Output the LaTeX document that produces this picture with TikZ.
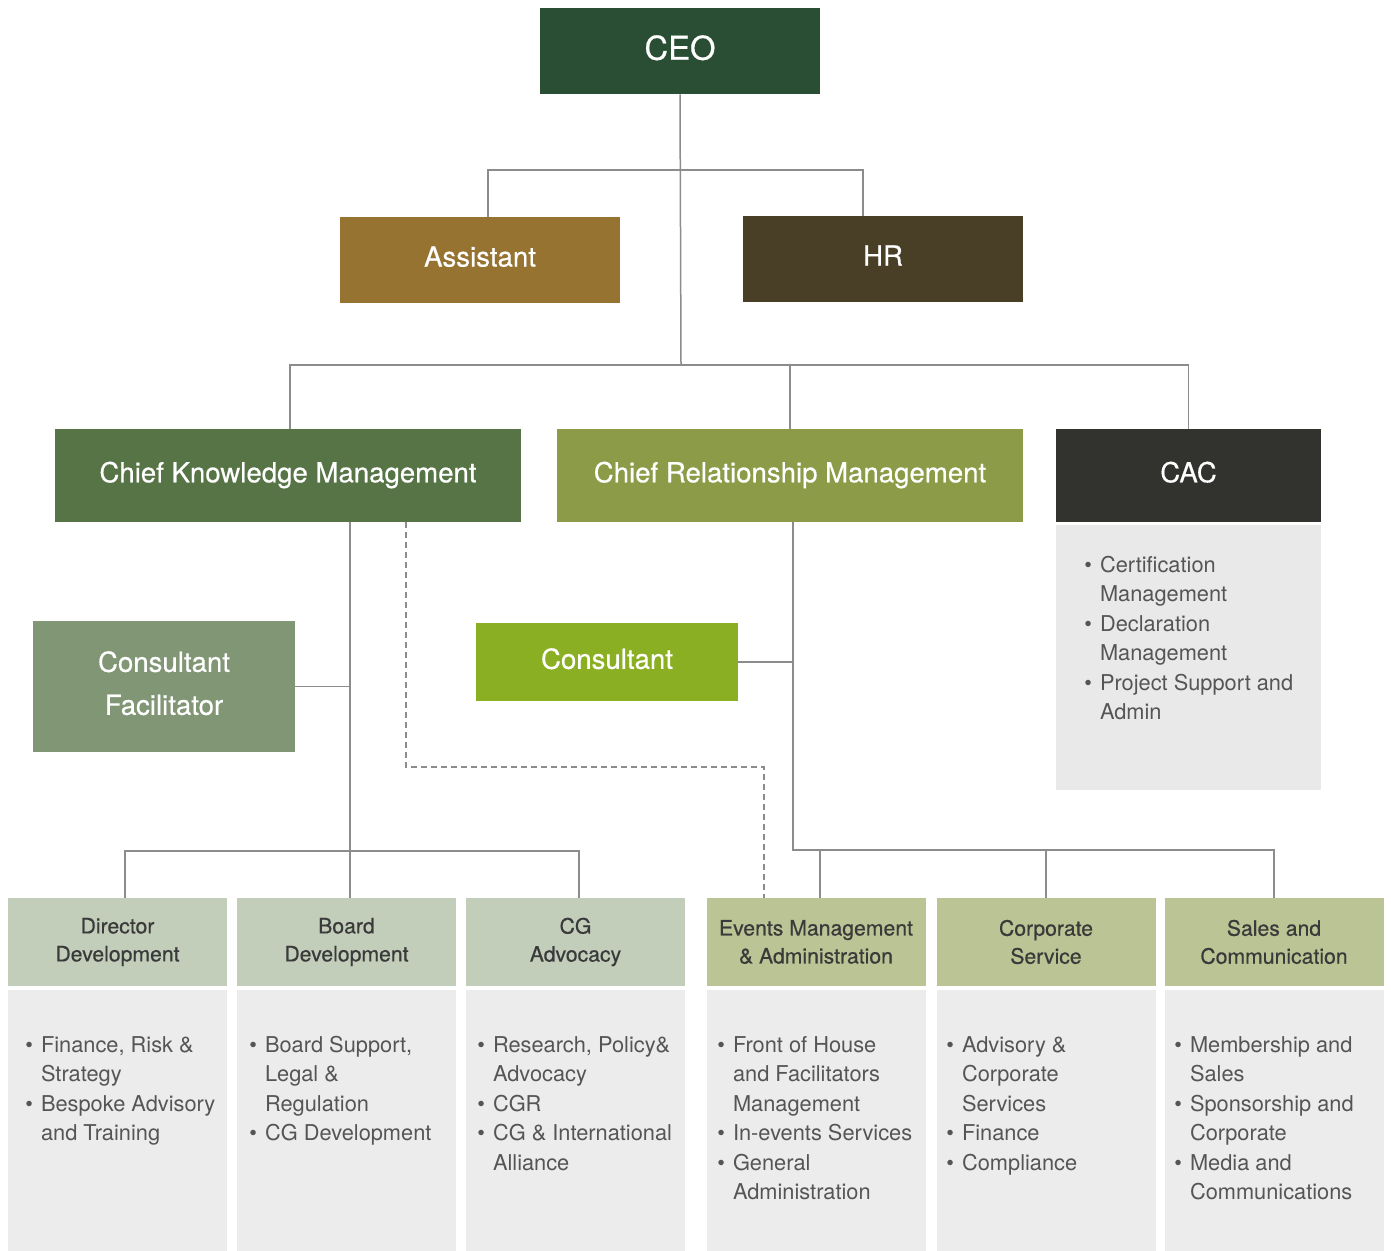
\documentclass[tikz,border=0pt]{standalone}
\usepackage{fontspec}
\setmainfont{TeX Gyre Heros}
\newfontfamily\medfont[FakeBold=0.5]{TeX Gyre Heros}
\usepackage{tikz}
\usetikzlibrary{calc}

\definecolor{ceogreen}{HTML}{2A4E34}
\definecolor{asstbrown}{HTML}{967330}
\definecolor{hrbrown}{HTML}{483F26}
\definecolor{ckmgreen}{HTML}{567445}
\definecolor{crmolive}{HTML}{8B9B48}
\definecolor{cacdark}{HTML}{32332F}
\definecolor{cacgray}{HTML}{E9E9E9}
\definecolor{facgreen}{HTML}{819674}
\definecolor{conslime}{HTML}{8BAF22}
\definecolor{sagehead}{HTML}{C2CDBA}
\definecolor{olivehead}{HTML}{BBC494}
\definecolor{bodygray}{HTML}{EBECEB}
\definecolor{linegray}{HTML}{8C8C8C}
\definecolor{itemgray}{HTML}{555555}
\definecolor{headtext}{HTML}{3A3A3A}

\newcommand{\itm}{\textbullet &}

\begin{document}
\begin{tikzpicture}[x=0.5pt,y=-0.5pt,
  box/.style={inner sep=0pt, align=center, text=white, text depth=3.5pt, font=\medfont\fontsize{13.8}{21.5}\selectfont},
  subhead/.style={inner sep=0pt, align=center, text=headtext, minimum width=109.5pt, minimum height=44pt, font=\medfont\fontsize{10.6}{14}\selectfont},
  subbody/.style={inner sep=0pt, fill=bodygray, minimum width=109.5pt, minimum height=130.5pt},
  itemlist/.style={anchor=base west, inner sep=0pt, text=itemgray, font=\fontsize{10.9}{14.75}\selectfont},
  conn/.style={draw=linegray, line width=0.75pt}]
\useasboundingbox (0,0) rectangle (1391,1251);

% top
\node[box, fill=ceogreen, minimum width=140pt, minimum height=43pt, font=\medfont\fontsize{16.4}{20}\selectfont] (ceo) at (680,51) {CEO};
\node[box, fill=asstbrown, minimum width=140pt, minimum height=43pt] (asst) at (480,260) {Assistant};
\node[box, fill=hrbrown, minimum width=140pt, minimum height=43pt] (hr) at (883,259) {HR};

% chiefs
\node[box, fill=ckmgreen, minimum width=233pt, minimum height=46.5pt] (ckm) at (288,475.5) {Chief Knowledge Management};
\node[box, fill=crmolive, minimum width=233pt, minimum height=46.5pt] (crm) at (790,475.5) {Chief Relationship Management};
\node[box, fill=cacdark, minimum width=132.5pt, minimum height=46.5pt] (cac) at (1188.5,475.5) {CAC};
\node[inner sep=0pt, fill=cacgray, minimum width=132.5pt, minimum height=132.5pt] (cacbody) at (1188.5,657.5) {};
\node[itemlist] (caclist) at (1084,572) {\begin{tabular}[t]{@{}l@{\hspace{4pt}}l@{}}
\itm Certification\\ & Management\\
\itm Declaration\\ & Management\\
\itm Project Support and\\ & Admin
\end{tabular}};

% consultants
\node[box, fill=facgreen, minimum width=131pt, minimum height=65.5pt] (fac) at (164,686.5) {Consultant\\Facilitator};
\node[box, fill=conslime, minimum width=131pt, minimum height=39pt] (cons) at (607,662) {Consultant};

% units
\node[subhead, fill=sagehead] (dd) at (117.5,942) {Director\\Development};
\node[subhead, fill=sagehead] (bd) at (346.5,942) {Board\\Development};
\node[subhead, fill=sagehead] (cga) at (575.5,942) {CG\\Advocacy};
\node[subhead, fill=olivehead] (em) at (816,942) {Events Management\\\& Administration};
\node[subhead, fill=olivehead] (cs) at (1046,942) {Corporate\\Service};
\node[subhead, fill=olivehead] (sc) at (1274,942) {Sales and\\Communication};

\node[subbody] (ddbody) at (117.5,1120.5) {};
\node[subbody] (bdbody) at (346.5,1120.5) {};
\node[subbody] (cgabody) at (575.5,1120.5) {};
\node[subbody] (embody) at (816,1120.5) {};
\node[subbody] (csbody) at (1046,1120.5) {};
\node[subbody] (scbody) at (1274,1120.5) {};

\node[itemlist] (ddlist) at (25,1052) {\begin{tabular}[t]{@{}l@{\hspace{4pt}}l@{}}
\itm Finance, Risk \&\\ & Strategy\\
\itm Bespoke Advisory\\ & and Training
\end{tabular}};
\node[itemlist] (bdlist) at (249,1052) {\begin{tabular}[t]{@{}l@{\hspace{4pt}}l@{}}
\itm Board Support,\\ & Legal \&\\ & Regulation\\
\itm CG Development
\end{tabular}};
\node[itemlist] (cgalist) at (477,1052) {\begin{tabular}[t]{@{}l@{\hspace{4pt}}l@{}}
\itm Research, Policy\&\\ & Advocacy\\
\itm CGR\\
\itm CG \& International\\ & Alliance
\end{tabular}};
\node[itemlist] (emlist) at (717,1052) {\begin{tabular}[t]{@{}l@{\hspace{4pt}}l@{}}
\itm Front of House\\ & and Facilitators\\ & Management\\
\itm In-events Services\\
\itm General\\ & Administration
\end{tabular}};
\node[itemlist] (cslist) at (946,1052) {\begin{tabular}[t]{@{}l@{\hspace{4pt}}l@{}}
\itm Advisory \&\\ & Corporate\\ & Services\\
\itm Finance\\
\itm Compliance
\end{tabular}};
\node[itemlist] (sclist) at (1174,1052) {\begin{tabular}[t]{@{}l@{\hspace{4pt}}l@{}}
\itm Membership and\\ & Sales\\
\itm Sponsorship and\\ & Corporate\\
\itm Media and\\ & Communications
\end{tabular}};

% connectors
\coordinate (j1) at (681,170);
\coordinate (j2) at (681,365);
\coordinate (k1) at (350,851);
\coordinate (k2) at (793,850);
\draw[conn] (ceo.south) -- (j2);
\draw[conn] ([xshift=4pt]asst.north) |- (j1) -| ([xshift=-10pt]hr.north);
\draw[conn] ([xshift=1pt]ckm.north) |- (j2) -| (cac.north);
\draw[conn] (crm.north) -- (crm.north |- j2);
\draw[conn] (ckm.south -| k1) -- (bd.north -| k1);
\draw[conn] ([xshift=3.75pt]dd.north) |- (k1) -| ([xshift=1.75pt]cga.north);
\draw[conn] (fac.east) -- (fac.east -| k1);
\draw[conn] (crm.south -| k2) -- (k2) -| (sc.north);
\draw[conn] ([xshift=2pt]em.north) -- ([xshift=2pt]em.north |- k2);
\draw[conn] (cs.north) -- (cs.north |- k2);
\draw[conn] (cons.east) -- (cons.east -| k2);
\draw[conn, dashed, dash pattern=on 3pt off 2pt] ([xshift=59pt]ckm.south) |- ([xshift=-26pt]em.north |- 0,767) -- ([xshift=-26pt]em.north);
\end{tikzpicture}
\end{document}
